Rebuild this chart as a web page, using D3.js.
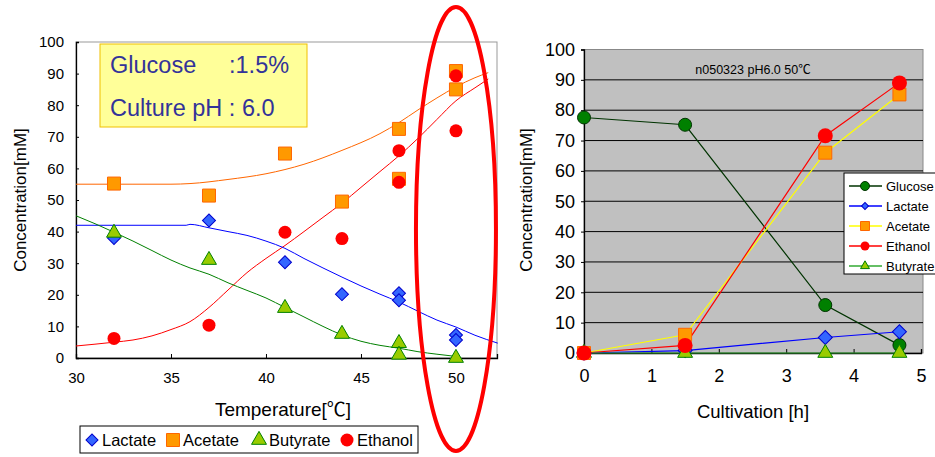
<!DOCTYPE html>
<html>
<head>
<meta charset="utf-8">
<script src="https://cdn.jsdelivr.net/npm/d3@7"></script>
<style>
  body { margin: 0; background: #fff; }
  svg { font-family: "Liberation Sans", Arial, "Noto Sans CJK JP", sans-serif; }
</style>
</head>
<body>
<div id="chart"></div>
<script>
// ---- left chart: concentration vs temperature ----
var lactatePts = [[32, 38], [37, 43.5], [41, 30.3], [44, 20.2], [47, 20.5], [47, 18.3], [50, 7.3], [50, 5.7]];
var acetatePts = [[32, 55.2], [37, 51.4], [41, 64.7], [44, 49.5], [47, 72.5], [47, 56.7], [50, 90.8], [50, 85]];
var butyratePts = [[32, 39.6], [37, 31], [41, 15.8], [44, 7.6], [47, 4.7], [47, 1], [50, 0]];
var ethanolPts = [[32, 6.2], [37, 10.4], [41, 39.8], [44, 37.8], [47, 65.6], [47, 55.6], [50, 89.3], [50, 71.9]];

// trend curves
var acetateCurve = [[30, 55], [33, 55], [35, 55], [36, 55.2], [38, 56.5], [40, 58.3], [42, 61.3], [44, 65.7], [46, 71], [47, 74.5], [48, 78.5], [49, 82.3], [50, 85.8], [51, 88.7], [51.7, 90.3]];
var ethanolCurve = [[30, 3.8], [32, 5], [33, 5.7], [34, 7], [35, 9], [36, 11.5], [37, 16], [38, 21.5], [39, 27], [40, 31.5], [41, 35.6], [42, 40], [43, 44.5], [44, 49], [45, 54], [46, 59], [47, 64], [48, 69.5], [49, 75.5], [50, 81.4], [51, 85.5], [51.7, 88.3]];
var lactateCurve = [[30, 42], [35.8, 42], [36, 42.3], [37, 41.2], [38, 40], [39, 38.8], [40, 37], [41, 34.7], [42, 31.5], [43, 28.5], [44, 25.6], [45, 22.8], [46, 20.2], [47, 17.7], [48, 14.8], [49, 12], [50, 9.8], [51, 7.2], [52.2, 4.7]];
var butyrateCurve = [[30, 45], [31, 42.5], [32, 39.8], [33, 37], [34, 34], [35, 31], [36, 28.5], [37, 26.5], [38, 23.8], [39, 21.4], [40, 19], [41, 16], [42, 13], [43, 10], [44, 7.3], [45, 5.3], [46, 4], [47, 3.1], [48, 2], [49, 1.2], [50, 0.5]];

var tempTicks = [30, 35, 40, 45, 50];
var concTicks = [0, 10, 20, 30, 40, 50, 60, 70, 80, 90, 100];
var infoNames = ["Glucose", "Culture pH"];
var infoValues = [":1.5%", ": 6.0"];
var leftLegend = ["Lactate", "Acetate", "Butyrate", "Ethanol"];

// ---- right chart: time course ----
var hours = [0, 1.5, 3.58, 4.68];
var glucose = [77.6, 75.2, 15.8, 2.6];
var lactate = [0, 0.8, 5.1, 7];
var acetate = [0, 6, 66, 85.2];
var ethanol = [0, 2.5, 71.6, 89];
var butyrate = [0, 0, 0, 0];
var hourTicks = [0, 1, 2, 3, 4, 5];
var runLabel = "n050323 pH6.0 50\u2103";

var W = 935, H = 457;
var svg = d3.select("#chart").append("svg").attr("width", W).attr("height", H);

function marker(g, kind, x, y, s) {
  // s = nominal size in px
  if (kind === "diamond") {
    g.append("path").attr("d", d3.symbol(d3.symbolSquare, s * s * 0.5)())
      .attr("transform", "translate(" + x + "," + y + ") rotate(45)")
      .attr("fill", "#3366ff").attr("stroke", "#0000cc").attr("stroke-width", 1);
  } else if (kind === "square") {
    g.append("path").attr("d", d3.symbol(d3.symbolSquare, s * s)())
      .attr("transform", "translate(" + x + "," + y + ")")
      .attr("fill", "#ff9900").attr("stroke", "#ff6600").attr("stroke-width", 1);
  } else if (kind === "triangle") {
    g.append("path").attr("d", d3.symbol(d3.symbolTriangle, s * s * 0.43)())
      .attr("transform", "translate(" + x + "," + y + ")")
      .attr("fill", "#99cc00").attr("stroke", "#008000").attr("stroke-width", 1);
  } else if (kind === "circle") {
    g.append("circle").attr("cx", x).attr("cy", y).attr("r", s / 2)
      .attr("fill", "#ff0000");
  } else if (kind === "gcircle") {
    g.append("circle").attr("cx", x).attr("cy", y).attr("r", s / 2)
      .attr("fill", "#008000").attr("stroke", "#003300").attr("stroke-width", 1);
  }
}

function leftChart() {
  var x = d3.scaleLinear().domain([30, 52.16]).range([76, 497]);
  var y = d3.scaleLinear().domain([0, 100]).range([358, 42]);
  var g = svg.append("g");

  // frame
  g.append("rect").attr("x", 76).attr("y", 42).attr("width", 421).attr("height", 316)
    .attr("fill", "none").attr("stroke", "#999").attr("stroke-width", 1);

  // axes
  var yAxis = g.append("g").attr("transform", "translate(76,0)")
    .call(d3.axisLeft(y).tickValues(concTicks).tickSize(-3).tickPadding(12));
  var xAxis = g.append("g").attr("transform", "translate(0,358)")
    .call(d3.axisBottom(x).tickValues(tempTicks).tickSize(-4).tickPadding(14));
  [yAxis, xAxis].forEach(function (a) {
    a.select(".domain").attr("stroke", "#000").attr("stroke-width", 1.3);
    a.selectAll("text").attr("font-size", "15px").attr("fill", "#000");
  });

  // yellow info box
  g.append("rect").attr("x", 100).attr("y", 44).attr("width", 207).attr("height", 83)
    .attr("fill", "#ffff99").attr("stroke", "#f0c000").attr("stroke-width", 1);
  infoNames.forEach(function (name, i) {
    g.append("text").attr("x", 110).attr("y", 73 + i * 43)
      .attr("font-size", "23.5px").attr("fill", "#333399")
      .text(i === 0 ? name : name + " " + infoValues[i]);
    if (i === 0) {
      g.append("text").attr("x", 229).attr("y", 73)
        .attr("font-size", "23.5px").attr("fill", "#333399").text(infoValues[i]);
    }
  });

  // trend curves
  var line = d3.line().x(function (d) { return x(d[0]); }).y(function (d) { return y(d[1]); })
    .curve(d3.curveMonotoneX);
  [[acetateCurve, "#ff6600"], [ethanolCurve, "#ff0000"], [lactateCurve, "#0000ff"], [butyrateCurve, "#008000"]]
    .forEach(function (c) {
      g.append("path").datum(c[0]).attr("d", line).attr("fill", "none")
        .attr("stroke", c[1]).attr("stroke-width", 1);
    });

  // points
  lactatePts.forEach(function (d) { marker(g, "diamond", x(d[0]), y(d[1]), 13); });
  acetatePts.forEach(function (d) { marker(g, "square", x(d[0]), y(d[1]), 13); });
  butyratePts.forEach(function (d) { marker(g, "triangle", x(d[0]), y(d[1]), 15); });
  ethanolPts.forEach(function (d) { marker(g, "circle", x(d[0]), y(d[1]), 13); });

  // highlight ellipse round 50 degC
  g.append("ellipse").attr("cx", x(50)).attr("cy", 229).attr("rx", 40).attr("ry", 222)
    .attr("fill", "none").attr("stroke", "#ff0000").attr("stroke-width", 4);

  // axis titles
  g.append("text").attr("x", 283).attr("y", 416).attr("text-anchor", "middle")
    .attr("font-size", "19px").text("Temperature[\u2103]");
  g.append("text").attr("transform", "translate(26,200) rotate(-90)").attr("text-anchor", "middle")
    .attr("font-size", "17px").text("Concentration[mM]");

  // legend
  var lg = g.append("g");
  lg.append("rect").attr("x", 80).attr("y", 426).attr("width", 338).attr("height", 27)
    .attr("fill", "#fff").attr("stroke", "#000").attr("stroke-width", 1);
  var kinds = ["diamond", "square", "triangle", "circle"];
  var lx = [92, 173, 259, 347];
  leftLegend.forEach(function (name, i) {
    marker(lg, kinds[i], lx[i], 440, i === 0 ? 12 : (i === 2 ? 15 : 13));
    lg.append("text").attr("x", lx[i] + 10).attr("y", 446).attr("font-size", "16.5px").text(name);
  });
}

function rightChart() {
  var x = d3.scaleLinear().domain([0, 5]).range([584, 921]);
  var y = d3.scaleLinear().domain([0, 100]).range([353, 49.5]);
  var g = svg.append("g");

  g.append("rect").attr("x", 584).attr("y", 49.5).attr("width", 339).attr("height", 303.5)
    .attr("fill", "#c0c0c0").attr("stroke", "#888").attr("stroke-width", 1);

  // gridlines
  g.selectAll(".grid").data(concTicks.filter(function (d) { return d > 0 && d < 100; }))
    .enter().append("line")
    .attr("x1", 584).attr("x2", 923)
    .attr("y1", function (d) { return y(d); }).attr("y2", function (d) { return y(d); })
    .attr("stroke", "#000").attr("stroke-width", 1);

  var yAxis = g.append("g").attr("transform", "translate(584,0)")
    .call(d3.axisLeft(y).tickValues(concTicks).tickSize(3).tickPadding(6));
  var xAxis = g.append("g").attr("transform", "translate(0,353)")
    .call(d3.axisBottom(x).tickValues(hourTicks).tickFormat(d3.format("d")).tickSize(-4).tickPadding(16));
  [yAxis, xAxis].forEach(function (a) {
    a.select(".domain").attr("stroke", "#000").attr("stroke-width", 1.3);
    a.selectAll("text").attr("font-size", "18px").attr("fill", "#000");
  });

  g.append("text").attr("x", 753).attr("y", 74).attr("text-anchor", "middle")
    .attr("font-size", "12.5px").text(runLabel);

  var series = [
    { name: "Glucose", v: glucose, color: "#003300", m: "gcircle", s: 13 },
    { name: "Lactate", v: lactate, color: "#0000ff", m: "diamond", s: 14 },
    { name: "Acetate", v: acetate, color: "#ffff00", m: "square", s: 13 },
    { name: "Ethanol", v: ethanol, color: "#ff0000", m: "circle", s: 15 },
    { name: "Butyrate", v: butyrate, color: "#33aa33", m: "triangle", s: 15 }
  ];
  var line = d3.line().x(function (d, i) { return x(hours[i]); }).y(function (d) { return y(d); });

  series.forEach(function (s) {
    g.append("path").datum(s.v).attr("d", line).attr("fill", "none")
      .attr("stroke", s.color).attr("stroke-width", 1.2);
  });
  // marker stacking: ethanol drawn last
  [series[0], series[1], series[4], series[2], series[3]].forEach(function (s) {
    s.v.forEach(function (d, i) { marker(g, s.m, x(hours[i]), y(d), s.s); });
  });

  g.append("text").attr("x", 753).attr("y", 418).attr("text-anchor", "middle")
    .attr("font-size", "18.5px").text("Cultivation [h]");
  g.append("text").attr("transform", "translate(532,200) rotate(-90)").attr("text-anchor", "middle")
    .attr("font-size", "17px").text("Concentration[mM]");

  // legend
  var lg = g.append("g");
  lg.append("rect").attr("x", 844).attr("y", 173).attr("width", 95).attr("height", 101)
    .attr("fill", "#fff").attr("stroke", "#000").attr("stroke-width", 1);
  series.forEach(function (s, i) {
    var yy = 186 + i * 20;
    lg.append("line").attr("x1", 849).attr("x2", 882).attr("y1", yy).attr("y2", yy)
      .attr("stroke", s.color).attr("stroke-width", 1.5);
    marker(lg, s.m, 865, yy, s.m === "diamond" ? 7 : 9);
    lg.append("text").attr("x", 886).attr("y", yy + 5).attr("font-size", "13px").text(s.name);
  });
}

leftChart();
rightChart();
</script>
</body>
</html>
